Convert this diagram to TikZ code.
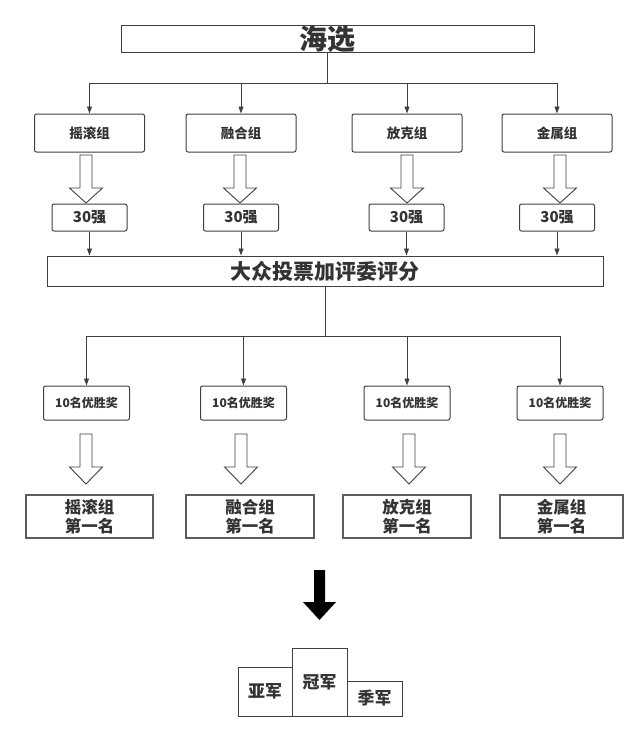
\documentclass[tikz,border=0pt]{standalone}
\usepackage{fontspec}
\setmainfont{Noto Sans CJK SC}
\usetikzlibrary{arrows.meta}
\definecolor{ln}{HTML}{404040}
\definecolor{tx}{HTML}{333333}
\tikzset{
  box/.style={draw=ln, line width=1pt, fill=white, rounded corners=2pt, inner sep=0pt, text=tx, font=\bfseries},
  sqbox/.style={draw=ln!85, line width=1.3pt, fill=white, inner sep=0pt, text=tx, font=\bfseries\fontsize{16.5}{19}\selectfont, align=center},
  conn/.style={draw=ln, line width=0.9pt, -{Triangle[length=7pt,width=5pt]}},
  hollow/.style={draw=ln, line width=0.9pt, fill=white, line join=miter},
  podium/.style={draw=ln, line width=1pt, fill=white, inner sep=0pt, text=tx, font=\bfseries\fontsize{17}{20}\selectfont}
}
\newcommand\myharrow[4]{% x, top, headstart, tip
  \draw[hollow] (#1-6,#2) -- (#1+6,#2) -- (#1+6,#3) -- (#1+16.5,#3) -- (#1,#4) -- (#1-16.5,#3) -- (#1-6,#3) -- cycle;}
\begin{document}
\begin{tikzpicture}[x=1pt,y=-1pt]
\useasboundingbox (0,0) rectangle (640,734);
% top
\node[box, rounded corners=0pt, minimum width=413pt, minimum height=26pt, font=\bfseries\fontsize{28}{30}\selectfont] (hx) at (327.5,39) {海选};
\coordinate (j1) at (327.5,83);
\foreach \n/\x/\t in {g1/89.5/摇滚组, g2/241/融合组, g3/407/放克组, g4/557/金属组}{
  \node[box, minimum width=110pt, minimum height=38pt, font=\bfseries\fontsize{13.5}{16}\selectfont] (\n) at (\x,133) {\t};
}
\foreach \n/\x in {s1/89.5, s2/241, s3/406.5, s4/557}{
  \node[box, minimum width=75pt, minimum height=27pt, font=\bfseries\fontsize{15}{17}\selectfont] (\n) at (\x,217.5) {30强};
}
\node[box, rounded corners=0pt, minimum width=556pt, minimum height=30pt, font=\bfseries\fontsize{21}{24}\selectfont] (big) at (325,271) {大众投票加评委评分};
\coordinate (j2) at (325,336);
\foreach \n/\x in {a1/86.5, a2/243.5, a3/407, a4/560}{
  \node[box, minimum width=86pt, minimum height=34pt, font=\bfseries\fontsize{12}{14}\selectfont] (\n) at (\x,403) {10名优胜奖};
}
\node[sqbox, minimum width=127pt, minimum height=43pt] (b1) at (89.5,516.5) {摇滚组\\第一名};
\node[sqbox, minimum width=128pt, minimum height=43pt] (b2) at (250,516.5) {融合组\\第一名};
\node[sqbox, minimum width=128pt, minimum height=43pt] (b3) at (407,516.5) {放克组\\第一名};
\node[sqbox, minimum width=123pt, minimum height=43pt] (b4) at (561.5,516.5) {金属组\\第一名};
% podium
\node[podium, minimum width=54pt, minimum height=49pt] (p2) at (265,691.5) {亚军};
\node[podium, minimum width=55pt, minimum height=68pt] (p1) at (319.5,682) {冠军};
\node[podium, minimum width=55pt, minimum height=35pt] (p3) at (374.5,698.5) {季军};
% connectors
\draw[ln, line width=0.9pt] (hx.south) -- (j1);
\foreach \n in {g1,g2,g3,g4}{ \draw[conn] (j1) -| (\n.north); }
\foreach \n in {s1,s2,s3,s4}{ \draw[conn] (\n.south) -- (\n.south |- big.north); }
\draw[ln, line width=0.9pt] (big.south) -- (j2);
\foreach \n in {a1,a2,a3,a4}{ \draw[conn] (j2) -| (\n.north); }
% hollow arrows
\myharrow{86}{155}{188}{203}
\myharrow{240}{155}{188}{203}
\myharrow{407}{155}{188}{203}
\myharrow{560}{155}{188}{203}
\myharrow{86}{434}{467}{484}
\myharrow{241}{434}{467}{484}
\myharrow{409}{434}{467}{484}
\myharrow{560}{434}{467}{484}
% black arrow
\fill[black] (314,570) -- (325,570) -- (325,602) -- (336,602) -- (319.5,620) -- (303,602) -- (314,602) -- cycle;
\end{tikzpicture}
\end{document}
